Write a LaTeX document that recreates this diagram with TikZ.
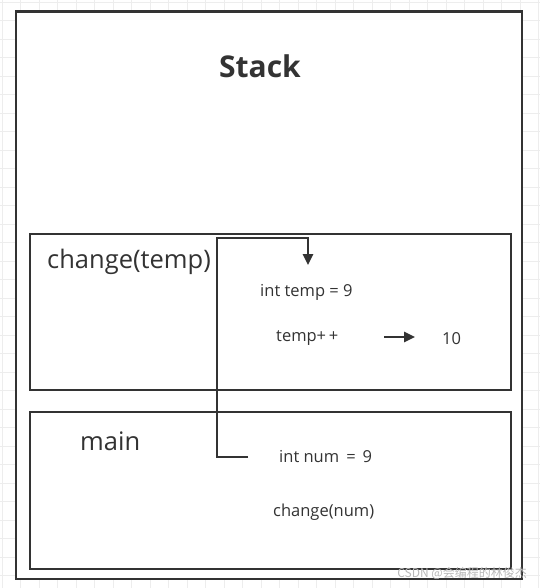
\documentclass[tikz,border=0pt]{standalone}
\usepackage{fontspec}
\setmainfont{Open Sans}
\newfontfamily\cjkfont{Noto Sans CJK SC}
\usetikzlibrary{arrows.meta}
\definecolor{ink}{HTML}{333333}
\definecolor{gridc}{HTML}{EDEDED}
\tikzset{
  box/.style={draw=ink, line width=2.5pt},
  lbl/.style={inner sep=0pt, text=ink, font=\fontsize{16.5}{20}\selectfont},
  big/.style={inner sep=0pt, text=ink, font=\fontsize{25.5}{30}\selectfont},
  conn/.style={draw=ink, line width=2.5pt, -{Triangle[length=11pt,width=10pt]}},
}
\begin{document}
\begin{tikzpicture}[x=1pt,y=-1pt]
\useasboundingbox (0,0) rectangle (540,588);
\fill[white] (0,0) rectangle (540,588);
\foreach \i in {0,...,29} {
  \draw[gridc, line width=0.8pt] (2+\i*18.5,0) -- (2+\i*18.5,588);
}
\foreach \i in {0,...,32} {
  \draw[gridc, line width=0.8pt] (0,2+\i*18.5) -- (540,2+\i*18.5);
}
\node[box, fill=white, minimum width=506pt, minimum height=567pt, inner sep=0pt, anchor=north west] (stack) at (14.5,10.5) {};
\node[box, minimum width=481pt, minimum height=156pt, inner sep=0pt, anchor=north west] (chg) at (28.5,232.5) {};
\node[box, minimum width=481pt, minimum height=157pt, inner sep=0pt, anchor=north west] (mainbox) at (28.5,410.5) {};
\node[inner sep=0pt, text=ink, font=\fontsize{30}{34}\selectfont\bfseries] (title) at (260,66) {Stack};
\node[big, anchor=west] (chgl) at (47,262) {change(temp)};
\node[big, anchor=west] (mainl) at (80,441) {main};
\node[lbl, anchor=west] (itemp) at (260,292) {int temp = 9};
\node[lbl, anchor=west] (tpp) at (276,338) {temp+\,+};
\node[lbl, anchor=west] (ten) at (442,339) {10};
\node[lbl, anchor=west] (inum) at (279,457) {int num \,=\, 9};
\node[lbl, anchor=west] (cnum) at (273,512) {change(num)};
\coordinate (cs) at (248,457);
\coordinate (ce) at (308,265);
\draw[conn] (cs) -- (217,457) -- (217,238) -- (308,238) -- (ce);
\coordinate (as) at (384,337);
\coordinate (ae) at (415,337);
\draw[conn] (as) -- (ae);
\node[inner sep=0pt, anchor=east, text=gray!55, font=\fontsize{12}{14}\selectfont\cjkfont] (wm) at (527,573) {CSDN @会编程的林俊杰};
\end{tikzpicture}
\end{document}
